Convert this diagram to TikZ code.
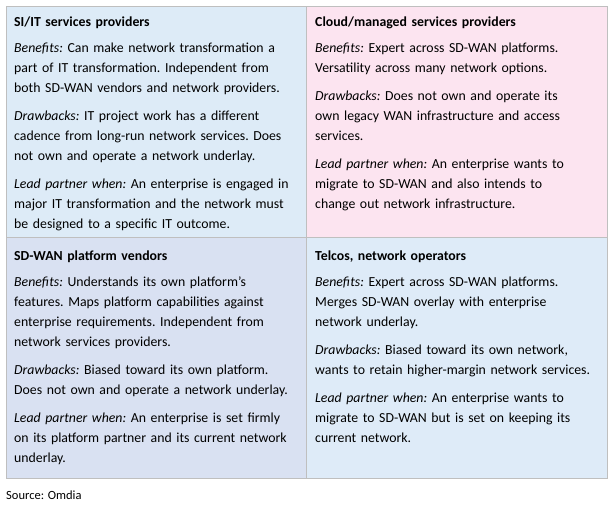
\documentclass[tikz,border=0pt]{standalone}
\usepackage{fontspec}
\setmainfont{Carlito}
\definecolor{cTL}{HTML}{DDEBF7}
\definecolor{cTR}{HTML}{FCE4F0}
\definecolor{cBL}{HTML}{D9E1F2}
\definecolor{cBR}{HTML}{DEEBF8}
\definecolor{bord}{HTML}{BFBFBF}
\tikzset{cell/.style={draw=bord,line width=0.8pt},
 txt/.style={anchor=north west,inner sep=0pt,text width=290pt,align=left,font=\fontsize{13.8pt}{20pt}\selectfont\frenchspacing}}
\newcommand{\pg}{\par\vspace{8pt}}
\begin{document}
\begin{tikzpicture}[x=1pt,y=1pt]
\useasboundingbox (0,0) rectangle (616,510);
\fill[white] (0,0) rectangle (616,510);
\fill[cTL] (6,273) rectangle (306,504);
\fill[cTR] (306,273) rectangle (607,504);
\fill[cBL] (6,32) rectangle (306,273);
\fill[cBR] (306,32) rectangle (607,273);
\draw[cell] (6,32) rectangle (607,504);
\draw[cell] (306,32) -- (306,504);
\draw[cell] (6,273) -- (607,273);
\node[txt] (tl) at (14,493) {\textbf{SI/IT services providers}\par\vspace{6pt}
\textit{Benefits:} Can make network transformation a\\ part of IT transformation. Independent from\\ both SD-WAN vendors and network providers.\pg
\textit{Drawbacks:} IT project work has a different\\ cadence from long-run network services. Does\\ not own and operate a network underlay.\pg
\textit{Lead partner when:} An enterprise is engaged in\\ major IT transformation and the network must\\ be designed to a specific IT outcome.};
\node[txt] (tr) at (315,493) {\textbf{Cloud/managed services providers}\par\vspace{6pt}
\textit{Benefits:} Expert across SD-WAN platforms.\\ Versatility across many network options.\pg
\textit{Drawbacks:} Does not own and operate its\\ own legacy WAN infrastructure and access\\ services.\pg
\textit{Lead partner when:} An enterprise wants to\\ migrate to SD-WAN and also intends to\\ change out network infrastructure.};
\node[txt] (bl) at (14,259) {\textbf{SD-WAN platform vendors}\par\vspace{6pt}
\textit{Benefits:} Understands its own platform’s\\ features. Maps platform capabilities against\\ enterprise requirements. Independent from\\ network services providers.\pg
\textit{Drawbacks:} Biased toward its own platform.\\ Does not own and operate a network underlay.\pg
\textit{Lead partner when:} An enterprise is set firmly\\ on its platform partner and its current network\\ underlay.};
\node[txt] (br) at (315,259) {\textbf{Telcos, network operators}\par\vspace{6pt}
\textit{Benefits:} Expert across SD-WAN platforms.\\ Merges SD-WAN overlay with enterprise\\ network underlay.\pg
\textit{Drawbacks:} Biased toward its own network,\\ wants to retain higher-margin network services.\pg
\textit{Lead partner when:} An enterprise wants to\\ migrate to SD-WAN but is set on keeping its\\ current network.};
\node[anchor=west,inner sep=0pt,font=\fontsize{12.5pt}{14pt}\selectfont] (src) at (6,15) {Source: Omdia};
\end{tikzpicture}
\end{document}
